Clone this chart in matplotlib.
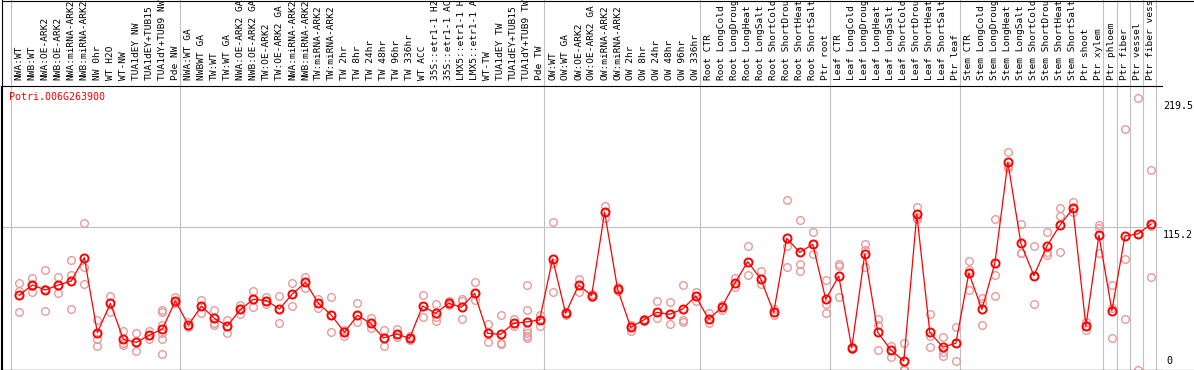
import matplotlib
matplotlib.use('Agg')
from matplotlib import pyplot as plt
from matplotlib.lines import Line2D

# expression profile for one gene, replicates + mean per sample

gene = "Potri.006G263900"

# sample names as they show in the header (long ones cut at 14 chars)
labels = ["NWA:WT", "NWB:WT", "NWA:OE-ARK2", "NWB:OE-ARK2", "NWA:miRNA-ARK2", "NWB:miRNA-ARK2",
          "NW 0hr", "WT H2O", "WT-NW", "TUA1dEY NW", "TUA1dEY+TUB15", "TUA1dY+TUB9 NW", "Pde NW",
          "NWA:WT GA", "NWBWT GA", "TW:WT", "TW:WT GA", "NWA:OE-ARK2 GA", "NWB:OE-ARK2 GA",
          "TW:OE-ARK2", "TW:OE-ARK2 GA", "NWA:miRNA-ARK2", "NWB:miRNA-ARK2", "TW:miRNA-ARK2",
          "TW:miRNA-ARK2", "TW 2hr", "TW 8hr", "TW 24hr", "TW 48hr", "TW 96hr", "TW 336hr",
          "WT ACC", "35S::etr1-1 H2", "35S::etr1-1 AC", "LMX5::etr1-1 H", "LMX5::etr1-1 A",
          "WT-TW", "TUA1dEY TW", "TUA1dEY+TUB15", "TUA1dY+TUB9 TW", "Pde TW",
          "OW:WT", "OW:WT GA", "OW:OE-ARK2", "OW:OE-ARK2 GA", "OW:miRNA-ARK2", "OW:miRNA-ARK2",
          "OW 2hr", "OW 8hr", "OW 24hr", "OW 48hr", "OW 96hr", "OW 336hr",
          "Root CTR", "Root LongCold", "Root LongDroug", "Root LongHeat", "Root LongSalt",
          "Root ShortCold", "Root ShortDrou", "Root ShortHeat", "Root ShortSalt", "Ptr root",
          "Leaf CTR", "Leaf LongCold", "Leaf LongDroug", "Leaf LongHeat", "Leaf LongSalt",
          "Leaf ShortCold", "Leaf ShortDrou", "Leaf ShortHeat", "Leaf ShortSalt", "Ptr leaf",
          "Stem CTR", "Stem LongCold", "Stem LongDroug", "Stem LongHeat", "Stem LongSalt",
          "Stem ShortCold", "Stem ShortDrou", "Stem ShortHeat", "Stem ShortSalt",
          "Ptr shoot", "Ptr xylem", "Ptr phloem", "Ptr fiber", "Ptr vessel", "Ptr fiber vess"]

means = [60.3, 68.4, 64.4, 68.4, 71.7, 90.6, 29.8, 53.6, 24.4, 22.0, 27.9, 32.8, 55.5,
         36.0, 51.4, 41.4, 35.2, 48.7, 56.8, 55.8, 49.0, 61.2, 70.6, 53.6, 43.9, 30.1, 43.9,
         37.4, 25.5, 28.8, 25.2, 51.4, 45.5, 53.6, 50.4, 61.7, 29.3, 28.5, 37.4, 38.5, 40.1,
         89.5, 45.5, 68.4, 59.8, 127.3, 64.9, 34.2, 40.1, 46.3, 44.7, 49.0, 59.5,
         40.6, 50.4, 69.8, 87.3, 73.3, 46.3, 106.2, 94.9, 101.4, 56.8,
         75.7, 17.4, 93.6, 30.1, 15.8, 6.9, 125.7, 30.1, 18.2, 21.2,
         78.2, 48.7, 86.0, 167.8, 102.2, 76.0, 100.0, 116.8, 130.5, 35.2, 108.7,
         47.7, 108.1, 109.8, 117.6]

reps = [[70.3, 63.6, 46.8], [74.4, 67.8, 63.0], [80.6, 65.2, 47.4], [74.7, 68.8, 61.7],
        [88.7, 76.5, 49.0], [118.4, 83.3, 69.0], [40.1, 24.4, 19.3], [59.5, 53.6, 46.8],
        [31.5, 21.2, 19.8], [29.3, 22.0, 15.0], [31.5, 27.9, 24.4],
        [48.2, 46.8, 36.0, 29.3, 24.4, 12.3], [58.4, 55.5, 53.6],
        [38.2, 36.0, 34.7], [56.3, 51.4, 46.0], [48.2, 37.4, 36.0], [40.1, 35.2, 29.8],
        [52.2, 48.7, 44.7], [63.6, 56.8, 50.9], [58.4, 55.8, 52.8], [59.5, 49.0, 37.4],
        [69.8, 61.2, 51.4], [75.2, 70.6, 65.7], [56.8, 53.6, 49.5], [58.4, 43.9, 30.1],
        [32.0, 30.1, 27.4], [53.6, 43.9, 38.2], [41.4, 37.4, 33.9], [32.0, 25.5, 19.3],
        [33.1, 28.8, 26.6], [27.4, 25.2, 23.9], [60.3, 51.4, 42.2], [53.1, 42.2, 39.6],
        [55.5, 53.6, 52.2], [56.8, 55.8, 40.6], [70.6, 61.7, 56.3], [36.6, 29.3, 22.5],
        [43.9, 21.2, 20.4], [40.6, 37.4, 35.2], [68.4, 48.2, 32.0, 29.3, 27.4, 25.2],
        [44.1, 40.1, 35.2],
        [119.2, 86.0, 62.8], [46.8, 45.5, 44.1], [73.3, 68.4, 63.0], [61.2, 59.8, 59.0],
        [132.4, 127.3, 122.4], [67.1, 64.9, 63.6], [36.0, 34.2, 31.5], [40.6, 40.1, 39.3],
        [55.5, 46.3, 41.4], [54.7, 44.7, 36.6], [68.4, 40.1, 38.2], [62.5, 59.5, 55.8],
        [46.0, 40.6, 37.4], [52.2, 50.4, 48.2], [74.4, 69.8, 67.1], [100.0, 87.3, 76.5],
        [79.8, 73.3, 69.0], [49.0, 46.3, 44.1], [137.3, 100.3, 83.3], [121.1, 85.5, 80.1],
        [111.1, 101.4, 93.3], [72.5, 52.8, 45.5],
        [85.5, 83.8, 58.4], [18.5, 17.4, 16.3], [101.7, 96.8, 82.8], [40.6, 36.0, 15.8],
        [19.0, 15.8, 10.4], [21.2, 0.1, 0.0], [131.3, 123.2, 121.6], [45.0, 27.4, 17.9],
        [26.0, 13.9, 11.2], [34.7, 21.2, 7.2],
        [88.2, 80.6, 64.4], [57.6, 53.6, 36.0], [121.9, 76.5, 59.5], [175.9, 164.6, 162.9],
        [117.6, 94.6, 94.1], [100.0, 76.0, 53.1], [111.1, 94.9, 92.7], [130.5, 124.3, 95.4],
        [135.4, 130.5, 127.8], [38.7, 35.2, 32.0], [117.0, 114.3, 94.6],
        [68.2, 49.7, 25.2], [194.5, 89.2, 40.9], [219.5, 109.9, 0.0], [161.6, 116.5, 74.7]]

# group separators (between sample sets)
separators = [-0.64, 12.35, 40.35, 52.35, 62.35, 72.35, 83.35, 84.4, 85.4, 86.4, 87.4]
y_ticks = [0, 115.2, 219.5]

W, H = 1194, 370
fig = plt.figure(figsize=(W / 100, H / 100), dpi=100)
ax = fig.add_axes([1 / W, 0.5 / H, 1161 / W, 283.5 / H])

mono = 'DejaVu Sans Mono'
x = list(range(len(means)))

ax.axhline(115.2, color='#c0c0c0', lw=0.8, zorder=0)
top = (H - 0.5) / 283.5
for s in separators:
    ax.axvline(s, ymin=0, ymax=top, color='#c0c0c0', lw=0.8, clip_on=False, zorder=0)

rx = [i for i, r in enumerate(reps) for v in r]
ry = [v for r in reps for v in r]
ax.plot(rx, ry, 'o', ms=5.5, mfc='none', mec='#e89a9a', mew=1.0, clip_on=False, zorder=2)
ax.plot(x, means, '-', color='red', lw=0.9, zorder=3)
ax.plot(x, means, 'o', ms=5.8, mfc='none', mec='red', mew=1.4, zorder=4)

ax.set_xlim(-1.407, 87.85)
ax.set_ylim(0, 229.6)

ax.set_xticks(x)
ax.set_xticklabels(labels, rotation=90, fontsize=6.8, family=mono)
ax.tick_params(axis='x', top=True, bottom=False, labeltop=True, labelbottom=False, length=0, pad=4)
ax.set_yticks([])
ax.spines['right'].set_visible(False)
for side in ['left', 'top', 'bottom']:
    ax.spines[side].set_linewidth(0.8)

# value labels on the right
for v in y_ticks:
    if v == 0:
        ax.annotate(str(v), (1.0, v), xycoords=('axes fraction', 'data'), xytext=(4, 4),
                    textcoords='offset pixels', va='bottom', ha='left', fontsize=7.2, family=mono,
                    annotation_clip=False)
    else:
        ax.annotate(str(v), (1.0, v), xycoords=('axes fraction', 'data'), xytext=(1, -3),
                    textcoords='offset pixels', va='top', ha='left', fontsize=7.2, family=mono,
                    annotation_clip=False)

fig.text(9 / W, 1 - 92 / H, gene, color='red', va='top', ha='left', fontsize=7.2, family=mono)

# outer frame
fig.add_artist(Line2D([1.5 / W, 1], [1 - 0.5 / H, 1 - 0.5 / H], transform=fig.transFigure, color='black', lw=0.8))
fig.add_artist(Line2D([1.5 / W, 1.5 / W], [0, 1], transform=fig.transFigure, color='black', lw=0.8))
fig.add_artist(Line2D([1.5 / W, 1], [0.5 / H, 0.5 / H], transform=fig.transFigure, color='black', lw=0.8))

fig.savefig('out.png', dpi=100)
